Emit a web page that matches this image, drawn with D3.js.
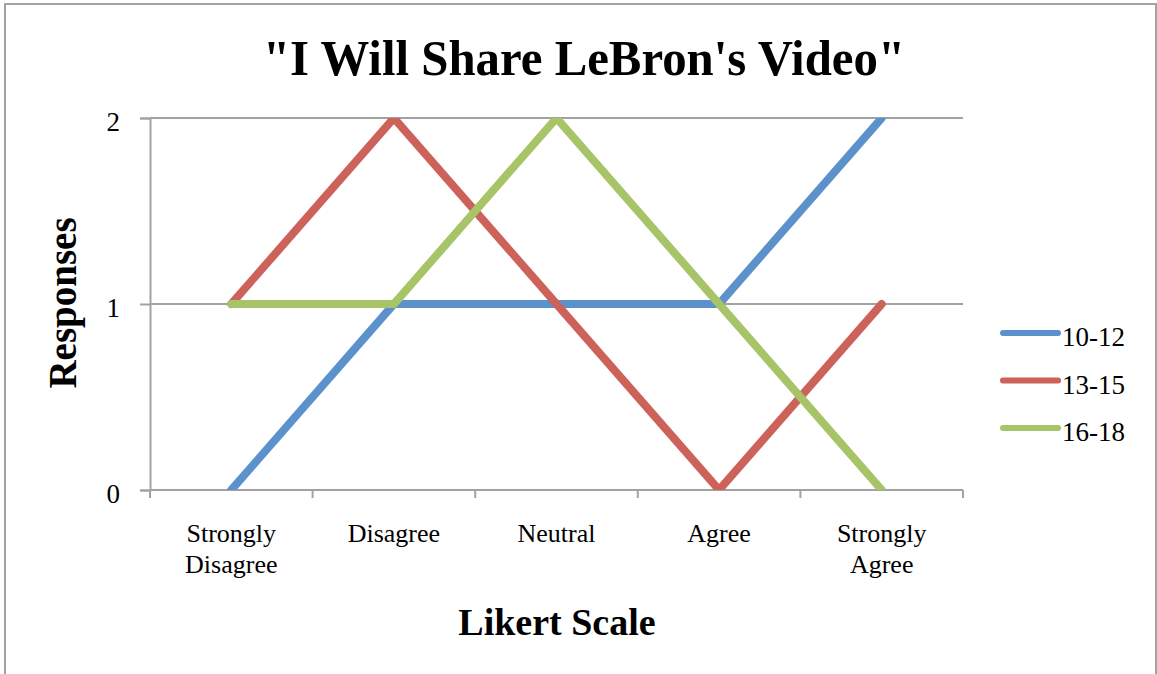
<!DOCTYPE html>
<html>
<head>
<meta charset="utf-8">
<script src="https://cdn.jsdelivr.net/npm/d3@7/dist/d3.min.js"></script>
<style>
  html, body { margin: 0; padding: 0; background: #fff; }
  svg { display: block; }
  text { font-family: "Liberation Serif", "DejaVu Serif", serif; fill: #000; }
</style>
</head>
<body>
<svg id="chart" width="1157" height="674"></svg>
<script>
// Likert categories along the x axis
const categories = ["Strongly Disagree", "Disagree", "Neutral", "Agree", "Strongly Agree"];
// Response counts per age group
const age10to12 = [0, 1, 1, 1, 2];
const age13to15 = [1, 2, 1, 0, 1];
const age16to18 = [1, 1, 2, 1, 0];
const seriesNames = ["10-12", "13-15", "16-18"];
const seriesColors = ["#5B92CB", "#CC625A", "#A8C468"];
const yTicks = [0, 1, 2];

const series = [age10to12, age13to15, age16to18].map((vals, i) => ({
  name: seriesNames[i], color: seriesColors[i], values: vals
}));

const svg = d3.select("#chart");
const plot = { left: 150, right: 963, top: 118, bottom: 490 };
const grey = "#a2a2a2";

// outer chart frame
svg.append("rect")
  .attr("x", 5).attr("y", 4).attr("width", 1151).attr("height", 690)
  .attr("fill", "none").attr("stroke", grey).attr("stroke-width", 2);

const x = d3.scaleBand().domain(categories).range([plot.left, plot.right]);
const y = d3.scaleLinear().domain([0, 2]).range([plot.bottom, plot.top]);
const cx = c => x(c) + x.bandwidth() / 2;

// horizontal gridlines
svg.append("g").selectAll("line").data(yTicks).join("line")
  .attr("x1", plot.left).attr("x2", plot.right)
  .attr("y1", d => y(d)).attr("y2", d => y(d))
  .attr("stroke", grey).attr("stroke-width", 2);

// y axis
const yAxis = svg.append("g")
  .attr("transform", `translate(${plot.left},0)`)
  .call(d3.axisLeft(y).tickValues(yTicks).tickFormat(d3.format("d")).tickSize(10).tickPadding(20));
yAxis.select(".domain").attr("stroke", grey).attr("stroke-width", 2);
yAxis.selectAll(".tick line").attr("stroke", grey).attr("stroke-width", 2);
yAxis.selectAll(".tick text")
  .style("font-family", '"Liberation Serif", serif')
  .style("font-size", "27px").attr("dy", "0.45em");

// x axis: ticks sit on the category boundaries
const boundaries = categories.map(c => x(c)).concat([plot.right]);
const xg = svg.append("g");
xg.append("line")
  .attr("x1", plot.left).attr("x2", plot.right)
  .attr("y1", plot.bottom).attr("y2", plot.bottom)
  .attr("stroke", grey).attr("stroke-width", 2);
xg.selectAll("line.tick").data(boundaries).join("line").attr("class", "tick")
  .attr("x1", d => d).attr("x2", d => d)
  .attr("y1", plot.bottom).attr("y2", plot.bottom + 8)
  .attr("stroke", grey).attr("stroke-width", 2);

const catLabels = xg.selectAll("text.cat").data(categories).join("text").attr("class", "cat")
  .attr("text-anchor", "middle").style("font-size", "26px");
catLabels.each(function(c) {
  const words = c.split(" ");
  const t = d3.select(this);
  words.forEach((w, i) => {
    t.append("tspan").attr("x", cx(c)).attr("y", 542 + i * 31).text(w);
  });
});

// series lines, clipped to the plot area
svg.append("clipPath").attr("id", "plotClip").append("rect")
  .attr("x", plot.left - 10).attr("y", plot.top)
  .attr("width", plot.right - plot.left + 20).attr("height", plot.bottom - plot.top);

const line = d3.line().x((d, i) => cx(categories[i])).y(d => y(d));
svg.append("g").attr("clip-path", "url(#plotClip)")
  .selectAll("path").data(series).join("path")
  .attr("d", d => line(d.values))
  .attr("fill", "none").attr("stroke", d => d.color)
  .attr("stroke-width", 8).attr("stroke-linecap", "round").attr("stroke-linejoin", "round");

// legend
const legend = svg.append("g").selectAll("g").data(series).join("g")
  .attr("transform", (d, i) => `translate(1003,${333 + i * 47.5})`);
legend.append("line").attr("x1", 0).attr("x2", 55).attr("y1", 0).attr("y2", 0)
  .attr("stroke", d => d.color).attr("stroke-width", 6).attr("stroke-linecap", "round");
legend.append("text").attr("x", 59).attr("y", 13).style("font-size", "27px").text(d => d.name);

// titles
svg.append("text").attr("x", 584).attr("y", 75).attr("text-anchor", "middle")
  .style("font-size", "50px").style("font-weight", "bold")
  .attr("textLength", 642).attr("lengthAdjust", "spacingAndGlyphs")
  .text("\"I Will Share LeBron's Video\"");

svg.append("text").attr("x", 557).attr("y", 635).attr("text-anchor", "middle")
  .style("font-size", "38px").style("font-weight", "bold").text("Likert Scale");

svg.append("text").attr("transform", "translate(76,303) rotate(-90)").attr("text-anchor", "middle")
  .style("font-size", "39px").style("font-weight", "bold").text("Responses");
</script>
</body>
</html>
